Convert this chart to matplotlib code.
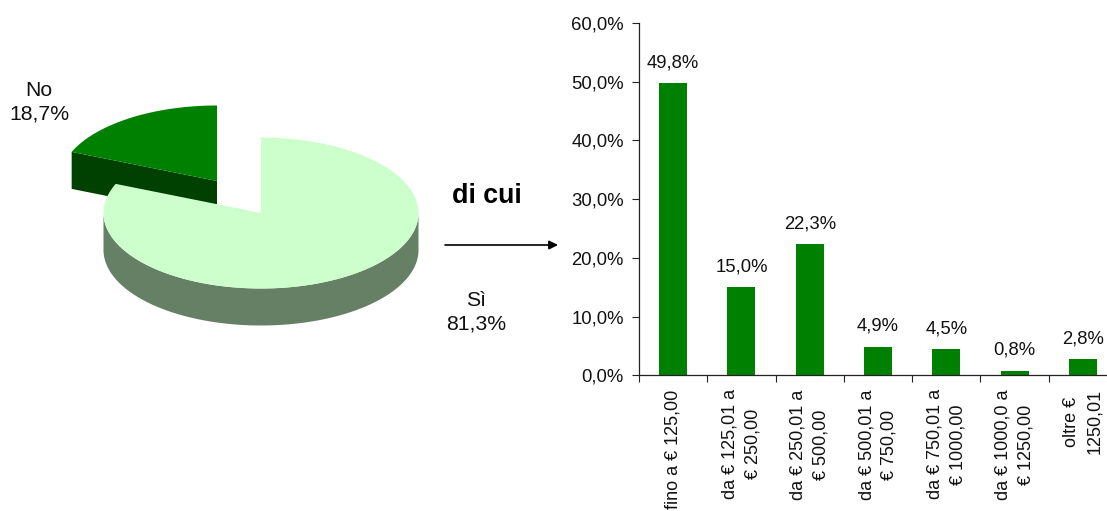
#!/usr/bin/env python3
"""Exploded 3D-look pie (Si/No) with a bar breakdown of the Si share."""
import numpy as np
import matplotlib
matplotlib.use("Agg")
import matplotlib.pyplot as plt
from matplotlib.patches import Polygon

PIE_LABELS = ["No", "Sì"]
PIE_VALUES = [18.7, 81.3]

BAR_LABELS = ["fino a € 125,00", "da € 125,01 a\n€ 250,00", "da € 250,01 a\n€ 500,00",
              "da € 500,01 a\n€ 750,00", "da € 750,01 a\n€ 1000,00",
              "da € 1000,0 a\n€ 1250,00", "oltre €\n1250,01"]
BAR_VALUES = [49.8, 15.0, 22.3, 4.9, 4.5, 0.8, 2.8]
Y_TICKS = [0, 10, 20, 30, 40, 50, 60]

C_BAR = "#008000"
C_BAR_SIDE = "#004000"
C_LIGHT = "#ccffcc"
C_LIGHT_SIDE = "#668066"
TXT = "#111111"

W, H = 1107, 511
plt.rcParams.update({"font.family": ["Liberation Sans", "DejaVu Sans"], "font.size": 13.3})
fig = plt.figure(figsize=(W / 100, H / 100), dpi=100)


def pct(v):
    return f"{v:.1f}%".replace(".", ",")


# --- left: pie, drawn in pixel coordinates on a full-figure axes ---
bg = fig.add_axes([0, 0, 1, 1])
bg.set_xlim(0, W); bg.set_ylim(H, 0); bg.axis("off")
RX, RY, DEPTH = 157.5, 75.5, 37


def rim(cx, cy, a0, a1, drop=0):
    t = np.radians(np.linspace(a0, a1, 200))
    return np.column_stack([cx + RX * np.sin(t), cy - RY * np.cos(t) + drop])


split = PIE_VALUES[1] / sum(PIE_VALUES) * 360

# "No" slice, pulled out towards the upper left
no_c = (217, 181)
cut = rim(*no_c, split, split)[0]
bg.add_patch(Polygon([cut, no_c, (no_c[0], no_c[1] + DEPTH), (cut[0], cut[1] + DEPTH)],
                     fc=C_BAR_SIDE, ec="none", zorder=1))
bg.add_patch(Polygon(np.vstack([[no_c], rim(*no_c, split, 360)]), fc=C_BAR, ec="none", zorder=2))

# "Si" slice: outer wall first, then the top face
si_c = (261, 213)
wall = np.vstack([rim(*si_c, 90, 270), rim(*si_c, 270, 90, DEPTH)])
bg.add_patch(Polygon(wall, fc=C_LIGHT_SIDE, ec="none", zorder=3))
bg.add_patch(Polygon(np.vstack([[si_c], rim(*si_c, 0, split)]), fc=C_LIGHT, ec="none", zorder=4))

bg.text(39, 102, f"{PIE_LABELS[0]}\n{pct(PIE_VALUES[0])}", ha="center", va="center",
        color=TXT, fontsize=15.3, linespacing=1.3)
bg.text(476, 312, f"{PIE_LABELS[1]}\n{pct(PIE_VALUES[1])}", ha="center", va="center",
        color=TXT, fontsize=15.3, linespacing=1.3)

bg.text(487, 196, "di cui", ha="center", va="center", fontsize=19.3, fontweight="bold", color="black")
bg.annotate("", xy=(558, 245), xytext=(445, 245),
            arrowprops=dict(arrowstyle="-|>", color="black", lw=1.2, mutation_scale=13,
                            shrinkA=0, shrinkB=0))

# --- right: bars; the axes runs past the right edge of the image, as in the original ---
x0, x1, y_top, y_base = 639, 1117, 23, 375.3
ax = fig.add_axes([x0 / W, 1 - y_base / H, (x1 - x0) / W, (y_base - y_top) / H])
ax.patch.set_alpha(0)
pos = np.arange(len(BAR_VALUES))
bars = ax.bar(pos, BAR_VALUES, 0.41, color=C_BAR)
for b, v in zip(bars, BAR_VALUES):
    ax.text(b.get_x() + b.get_width() / 2, v + 2.0, pct(v), ha="center", va="bottom", color=TXT)

ax.set_xlim(-0.5, len(BAR_VALUES) - 0.5)
ax.set_ylim(0, 60)
ax.set_yticks(Y_TICKS)
ax.set_yticklabels([pct(v) for v in Y_TICKS], color=TXT)
ax.set_xticks(pos - 0.5, minor=False)
ax.set_xticklabels([])
ax.tick_params(axis="both", length=5, width=0.8, color="#222222")
ax.tick_params(axis="y", pad=6)
ax.spines[["top", "right"]].set_visible(False)
for s in ("left", "bottom"):
    ax.spines[s].set_color("#222222")
    ax.spines[s].set_linewidth(0.9)

for p, lab in zip(pos, BAR_LABELS):
    ax.annotate(lab, xy=(p, 0), xycoords=("data", "axes fraction"), xytext=(0, -14),
                textcoords="offset pixels", rotation=90, ha="center", va="top", fontsize=13,
                multialignment="center", color=TXT, linespacing=1.45, annotation_clip=False)

fig.savefig("out.png", dpi=100)
